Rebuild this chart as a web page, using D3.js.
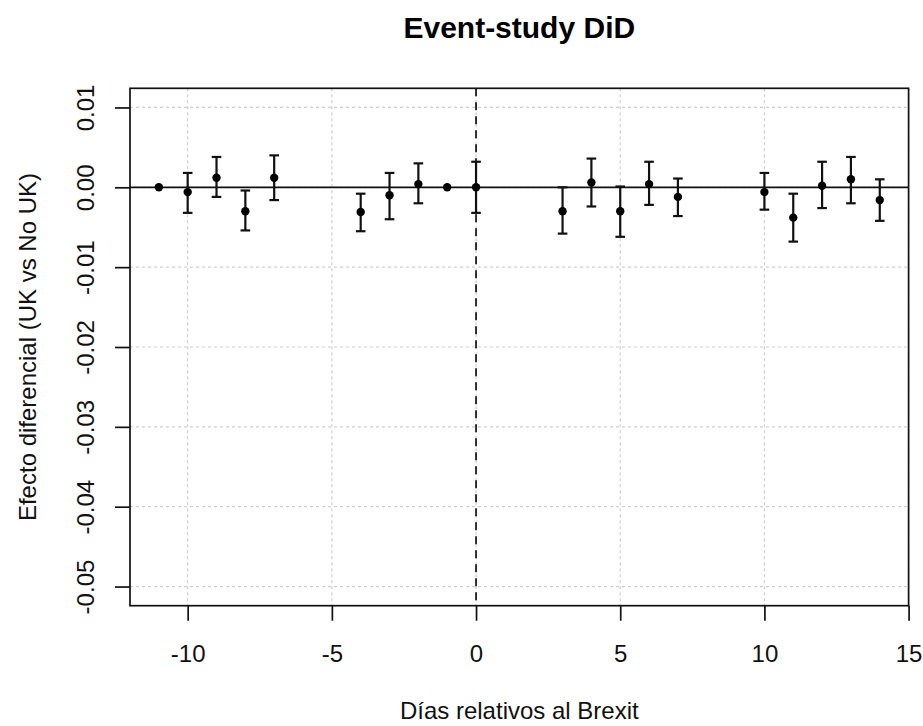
<!DOCTYPE html>
<html>
<head>
<meta charset="utf-8">
<script src="https://cdn.jsdelivr.net/npm/d3@7"></script>
<style>
  body { margin: 0; background: #fff; }
  svg { display: block; font-family: "Liberation Sans", Arial, sans-serif; }
</style>
</head>
<body>
<script>
// ---- data ----
const days = [-11, -10, -9, -8, -7, -4, -3, -2, -1, 0, 3, 4, 5, 6, 7, 10, 11, 12, 13, 14];
const estimates = [0, -0.0006, 0.0012, -0.0030, 0.0012, -0.0031, -0.0010, 0.0004, 0, 0, -0.0030, 0.0006, -0.0030, 0.0004, -0.0012, -0.0006, -0.0038, 0.0002, 0.0010, -0.0016];
const lowerCI = [null, -0.0032, -0.0012, -0.0054, -0.0016, -0.0055, -0.0040, -0.0020, null, -0.0032, -0.0058, -0.0024, -0.0062, -0.0022, -0.0036, -0.0028, -0.0068, -0.0026, -0.0020, -0.0042];
const upperCI = [null, 0.0018, 0.0038, -0.0004, 0.0040, -0.0008, 0.0018, 0.0030, null, 0.0032, 0.0000, 0.0036, 0.0001, 0.0032, 0.0011, 0.0018, -0.0008, 0.0032, 0.0038, 0.0010];
const xTicks = [-10, -5, 0, 5, 10, 15];
const yTicks = [0.01, 0.00, -0.01, -0.02, -0.03, -0.04, -0.05];
const xDomain = [-12, 15];
const yLimits = [-0.05, 0.01];
const title = "Event-study DiD";
const xLabel = "Días relativos al Brexit";
const yLabel = "Efecto diferencial (UK vs No UK)";

const W = 923, H = 726;
const L = 130, R = 908.6, T = 88.3, B = 605.7;

const pad = (yLimits[1] - yLimits[0]) * 0.04;
const x = d3.scaleLinear().domain(xDomain).range([L, R]);
const y = d3.scaleLinear().domain([yLimits[0] - pad, yLimits[1] + pad]).range([B, T]);
const hyph = f => d => f(d).replace("\u2212", "-");

const svg = d3.select("body").append("svg").attr("width", W).attr("height", H);

// grid
const grid = svg.append("g").attr("stroke", "#cfcfcf").attr("stroke-width", 1.2).attr("stroke-dasharray", "3,3").attr("fill", "none");
grid.selectAll("line.v").data(xTicks).join("line")
  .attr("x1", d => x(d)).attr("x2", d => x(d)).attr("y1", T).attr("y2", B);
grid.selectAll("line.h").data(yTicks).join("line")
  .attr("y1", d => y(d)).attr("y2", d => y(d)).attr("x1", L).attr("x2", R);

// reference lines
svg.append("line").attr("x1", L).attr("x2", R).attr("y1", y(0)).attr("y2", y(0))
  .attr("stroke", "#111").attr("stroke-width", 1.7);
svg.append("line").attr("x1", x(0)).attr("x2", x(0)).attr("y1", T).attr("y2", B)
  .attr("stroke", "#111").attr("stroke-width", 1.7).attr("stroke-dasharray", "8,6");

// error bars
const rows = days.map((d, i) => ({ d, e: estimates[i], lo: lowerCI[i], hi: upperCI[i] }));
const withCI = rows.filter(r => r.lo !== null);
const eb = svg.append("g").attr("stroke", "#111").attr("stroke-width", 2.2).attr("fill", "none");
eb.selectAll("line.stem").data(withCI).join("line")
  .attr("x1", r => x(r.d)).attr("x2", r => x(r.d)).attr("y1", r => y(r.lo)).attr("y2", r => y(r.hi));
eb.selectAll("line.capl").data(withCI).join("line")
  .attr("x1", r => x(r.d) - 4.8).attr("x2", r => x(r.d) + 4.8).attr("y1", r => y(r.lo)).attr("y2", r => y(r.lo));
eb.selectAll("line.caph").data(withCI).join("line")
  .attr("x1", r => x(r.d) - 4.8).attr("x2", r => x(r.d) + 4.8).attr("y1", r => y(r.hi)).attr("y2", r => y(r.hi));

// points
svg.append("g").selectAll("circle").data(rows).join("circle")
  .attr("cx", r => x(r.d)).attr("cy", r => y(r.e)).attr("r", 4.2).attr("fill", "#000");

// box
svg.append("rect").attr("x", L).attr("y", T).attr("width", R - L).attr("height", B - T)
  .attr("fill", "none").attr("stroke", "#111").attr("stroke-width", 1.7);

// axes
const xAxis = svg.append("g").attr("transform", `translate(0,${B})`)
  .call(d3.axisBottom(x).tickValues(xTicks).tickSize(15).tickPadding(24).tickFormat(hyph(d3.format("d"))));
xAxis.select(".domain").remove();
xAxis.selectAll("line").attr("stroke", "#111").attr("stroke-width", 1.7);
xAxis.selectAll("text").attr("font-size", 24).attr("fill", "#111")
  .attr("font-family", "'Liberation Sans', Arial, sans-serif");

const yAxis = svg.append("g").attr("transform", `translate(${L},0)`)
  .call(d3.axisLeft(y).tickValues(yTicks).tickSize(15).tickFormat(hyph(d3.format(".2f"))));
yAxis.select(".domain").remove();
yAxis.selectAll("line").attr("stroke", "#111").attr("stroke-width", 1.7);
yAxis.selectAll("text").attr("font-size", 24).attr("fill", "#111")
  .attr("font-family", "'Liberation Sans', Arial, sans-serif")
  .attr("x", null).attr("dy", null).attr("text-anchor", "middle")
  .attr("transform", "translate(-36.5,0) rotate(-90)");

// titles
svg.append("text").attr("x", (L + R) / 2).attr("y", 37.5).attr("text-anchor", "middle")
  .attr("font-size", 30).attr("font-weight", "bold").attr("fill", "#000").text(title);
svg.append("text").attr("x", (L + R) / 2).attr("y", 719).attr("text-anchor", "middle")
  .attr("font-size", 24).attr("fill", "#111").text(xLabel);
svg.append("text").attr("transform", `translate(36,${(T + B) / 2}) rotate(-90)`).attr("text-anchor", "middle")
  .attr("font-size", 24).attr("fill", "#111").text(yLabel);
</script>
</body>
</html>
